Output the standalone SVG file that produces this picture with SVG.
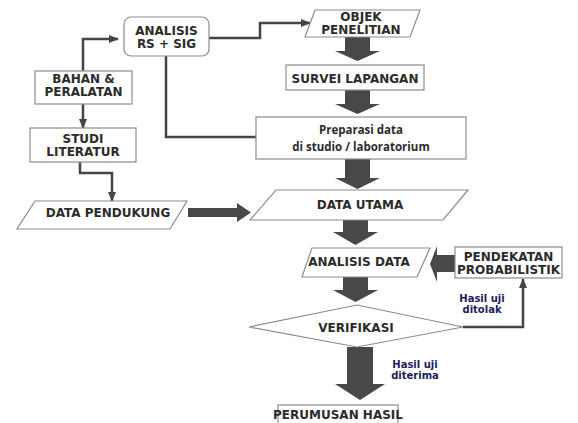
<svg xmlns="http://www.w3.org/2000/svg" width="578" height="423" viewBox="0 0 578 423">
<defs>
<style>
.box{fill:#fff;stroke:#8c8c8c;stroke-width:1.2}
.t{font-family:"DejaVu Sans",Verdana,sans-serif;font-weight:bold;font-size:12px;fill:#2b2b2b;text-anchor:middle}
.p{font-family:"Open Sans","DejaVu Sans",sans-serif;font-weight:bold;font-size:11.5px;fill:#2b2b2b;text-anchor:middle}
.s{font-family:"DejaVu Sans",Verdana,sans-serif;font-weight:bold;font-size:10px;fill:#1c1c5c;text-anchor:middle}
.ln{fill:none;stroke:#454545;stroke-width:2.5}
.fat{fill:#484848}
</style>
<marker id="ah" markerWidth="10" markerHeight="8" refX="9" refY="4" orient="auto" markerUnits="userSpaceOnUse">
<path d="M0,0 L10,4 L0,8 Z" fill="#454545"/>
</marker>
</defs>
<rect width="578" height="423" fill="#fff"/>

<g id="connectors">
<path class="ln" d="M209,38 H260 V23 H310" marker-end="url(#ah)"/>
<path class="ln" d="M83,71 V39 H118" marker-end="url(#ah)"/>
<path class="ln" d="M83,104 V128" marker-end="url(#ah)"/>
<path class="ln" d="M80,162 V173 H112 V201" marker-end="url(#ah)"/>
<path class="ln" d="M166,56 V137 H256"/>
<path class="ln" d="M463,327 H523 V279" marker-end="url(#ah)"/>
<polygon class="fat" points="345,37 370,37 370,51 380,51 357.5,61 335,51 345,51"/>
<polygon class="fat" points="345,90 370,90 370,104 380,104 357.5,114 335,104 345,104"/>
<polygon class="fat" points="345,159 370,159 370,178 380,178 357.5,189 335,178 345,178"/>
<polygon class="fat" points="343,220 368,220 368,232 378,232 355.5,245 333,232 343,232"/>
<polygon class="fat" points="343,277 368,277 368,290 378,290 355.5,302 333,290 343,290"/>
<polygon class="fat" points="347,347 373,347 373,384 385,384 360,400 335,384 347,384"/>
<polygon class="fat" points="188,208 237,208 237,203 251,212.5 237,222 237,217 188,217"/>
<polygon class="fat" points="455,255 437,255 437,246 430,264 437,282 437,272 455,272"/>
</g>

<g id="analisis-rs-sig">
<rect class="box" x="124" y="17" width="85" height="39" rx="7"/>
<text class="t" x="166.5" y="35">ANALISIS</text>
<text class="t" x="166.5" y="48">RS + SIG</text>
</g>
<g id="bahan-peralatan">
<rect class="box" x="35" y="71" width="97" height="33"/>
<text class="t" x="83.5" y="83">BAHAN &amp;</text>
<text class="t" x="83.5" y="96">PERALATAN</text>
</g>
<g id="studi-literatur">
<rect class="box" x="30" y="128" width="106" height="34"/>
<text class="t" x="83" y="143">STUDI</text>
<text class="t" x="83" y="156">LITERATUR</text>
</g>
<g id="objek-penelitian">
<polygon class="box" points="315,10 420,10 410,37 305,37"/>
<text class="t" x="361" y="21">OBJEK</text>
<text class="t" x="361" y="34">PENELITIAN</text>
</g>
<g id="survei-lapangan">
<rect class="box" x="286" y="65" width="138" height="25"/>
<text class="t" x="355" y="83">SURVEI LAPANGAN</text>
</g>
<g id="preparasi-data">
<rect class="box" x="256" y="117" width="210" height="42"/>
<text class="p" x="361" y="134">Preparasi data</text>
<text class="p" x="361" y="150.5">di studio / laboratorium</text>
</g>
<g id="data-pendukung">
<polygon class="box" points="35,201 187,201 170,229 17,229"/>
<text class="t" x="108" y="217">DATA PENDUKUNG</text>
</g>
<g id="data-utama">
<polygon class="box" points="276,190 468,190 443,220 250,220"/>
<text class="t" x="360" y="209">DATA UTAMA</text>
</g>
<g id="analisis-data">
<polygon class="box" points="312,248 430,248 417,277 302,277"/>
<text class="t" x="359" y="266">ANALISIS DATA</text>
</g>
<g id="pendekatan-probabilistik">
<rect class="box" x="455" y="247" width="107" height="31"/>
<text class="t" x="508.5" y="261">PENDEKATAN</text>
<text class="t" x="508.5" y="274">PROBABILISTIK</text>
</g>
<g id="verifikasi">
<polygon class="box" points="249,327 357,305 463,327 357,347"/>
<text class="t" x="356" y="332">VERIFIKASI</text>
</g>
<g id="perumusan-hasil">
<rect class="box" x="278" y="405" width="120" height="26"/>
<text class="t" x="338" y="419">PERUMUSAN HASIL</text>
</g>
<g id="labels">
<text class="s" x="482" y="302">Hasil uji</text>
<text class="s" x="482" y="313">ditolak</text>
<text class="s" x="415" y="368">Hasil uji</text>
<text class="s" x="415" y="379">diterima</text>
</g>
</svg>
